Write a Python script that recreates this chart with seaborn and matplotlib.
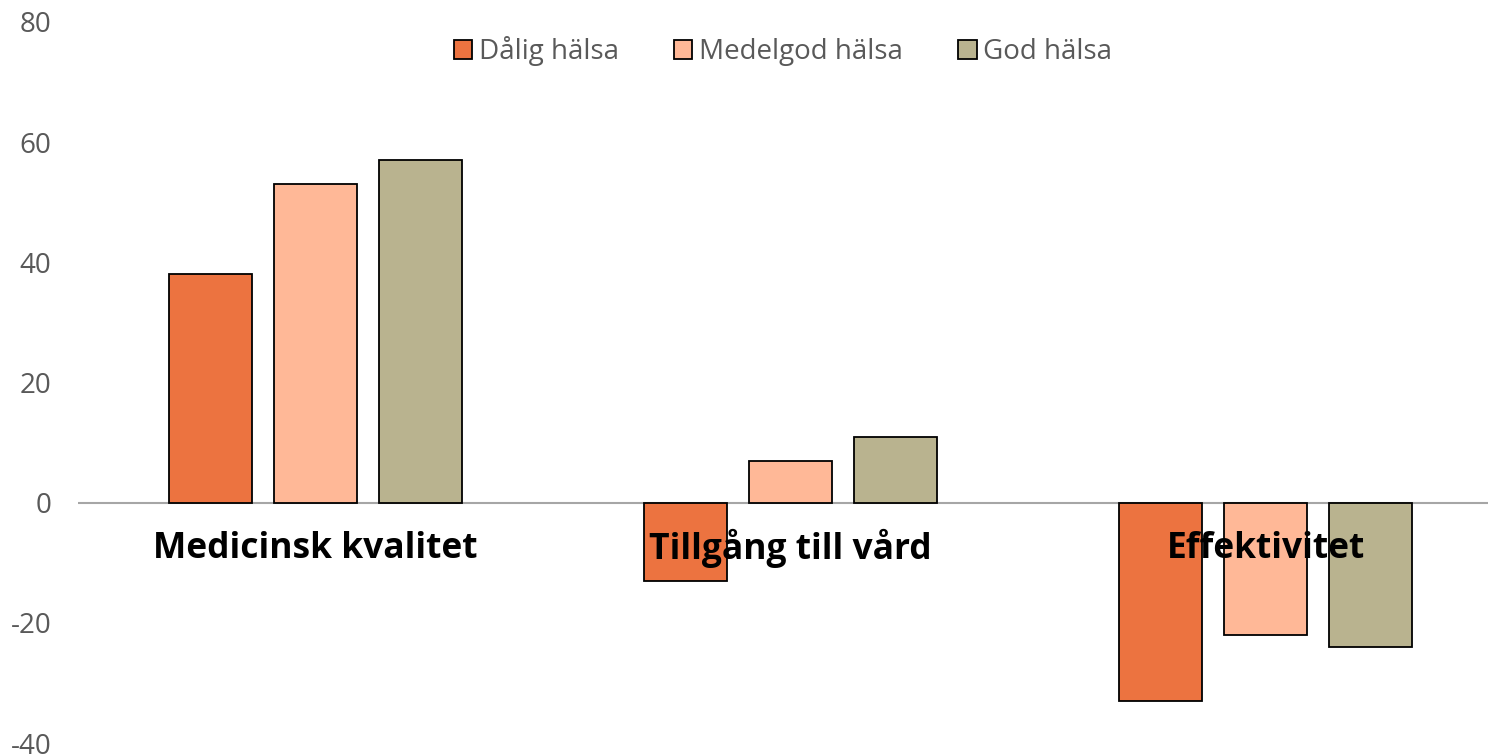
import numpy as np
import pandas as pd
import matplotlib
matplotlib.use('Agg')
import matplotlib.pyplot as plt
import matplotlib.transforms as mtransforms
import seaborn as sns

# data
categories = ['Medicinsk kvalitet', 'Tillgång till vård', 'Effektivitet']
groups = ['Dålig hälsa', 'Medelgod hälsa', 'God hälsa']
dalig = [38, -13, -33]
medelgod = [53, 7, -22]
god = [57, 11, -24]
colors = ['#EC7340', '#FFB897', '#B9B38F']

df = pd.DataFrame({
    'kategori': categories * 3,
    'grupp': np.repeat(groups, 3),
    'varde': dalig + medelgod + god,
})

sns.set_style('white')
plt.rcParams['font.family'] = ['Open Sans', 'DejaVu Sans']
plt.rcParams['axes.unicode_minus'] = False

fig = plt.figure(figsize=(14.88, 7.55), dpi=100)
ax = fig.add_axes([78 / 1488, 12 / 755, 1 - 78 / 1488, 721 / 755])

sns.barplot(data=df, x='kategori', y='varde', hue='grupp', order=categories,
            hue_order=groups, palette=colors, saturation=1, width=0.663, gap=0.21,
            edgecolor='black', linewidth=1.3, ax=ax)

ax.set_xlim(-0.5, 2.468)
ax.set_ylim(-40, 80)
ax.set_yticks(range(-40, 81, 20))
ax.axhline(0, color='#A6A6A6', lw=1.5, zorder=0.5)
ax.set_axisbelow(False)
for s in ax.spines.values():
    s.set_visible(False)

ax.set_xlabel('')
ax.set_ylabel('')
ax.tick_params(axis='y', length=0, pad=19, labelsize=20, labelcolor='#595959')
ax.tick_params(axis='x', length=0, labelsize=25.5)
# category labels just below the zero line, like Excel does
for lbl in ax.get_xticklabels():
    lbl.set_fontweight('bold')
    lbl.set_color('black')
    lbl.set_transform(mtransforms.blended_transform_factory(ax.transData, ax.transData)
                      + mtransforms.ScaledTranslation(0, -33 / 72, fig.dpi_scale_trans))
    lbl.set_verticalalignment('center')

leg = ax.legend(loc='upper center', bbox_to_anchor=(0.5, 1.015), ncol=3, frameon=False,
                fontsize=20, handlelength=0.65, handleheight=0.65, handletextpad=0.25,
                columnspacing=2.0, labelcolor='#595959')

fig.savefig('out.png', dpi=100)
